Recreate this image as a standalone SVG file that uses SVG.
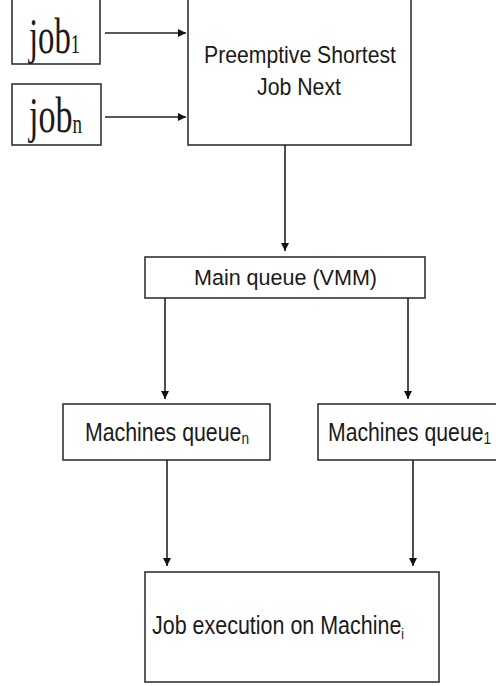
<svg xmlns="http://www.w3.org/2000/svg" width="496" height="686" viewBox="0 0 496 686">
<defs>
<style>
.box{fill:#fff;stroke:#333;stroke-width:1.6}
.ln{stroke:#222;stroke-width:1.6;fill:none;marker-end:url(#ah)}
.sans{font-family:"Liberation Sans",Arial,sans-serif;fill:#1a1a1a}
.serif{font-family:"Liberation Serif","Times New Roman",serif;fill:#1a1a1a}
</style>
<marker id="ah" viewBox="0 0 10 10" refX="10" refY="5" markerWidth="9" markerHeight="8" markerUnits="userSpaceOnUse" orient="auto">
<path d="M0,0 L10,5 L0,10 z" fill="#111"/>
</marker>
</defs>
<rect width="496" height="686" fill="#fff"/>
<g id="job1">
<rect class="box" x="12" y="-2" width="88" height="66"/>
<text class="serif" x="29" y="53" font-size="50" textLength="51" lengthAdjust="spacingAndGlyphs">job<tspan font-size="28">1</tspan></text>
</g>
<g id="jobn">
<rect class="box" x="12" y="84" width="89" height="61"/>
<text class="serif" x="29" y="132" font-size="50" textLength="53" lengthAdjust="spacingAndGlyphs">job<tspan font-size="28" dy="1">n</tspan></text>
</g>
<g id="psjn">
<rect class="box" x="188" y="-2" width="223" height="147"/>
<text class="sans" x="204" y="63" font-size="24" textLength="192" lengthAdjust="spacingAndGlyphs">Preemptive Shortest</text>
<text class="sans" x="257" y="95" font-size="24" textLength="84" lengthAdjust="spacingAndGlyphs">Job Next</text>
</g>
<g id="mainqueue">
<rect class="box" x="145" y="257" width="280" height="41"/>
<text class="sans" x="194" y="285" font-size="22" textLength="183" lengthAdjust="spacingAndGlyphs">Main queue (VMM)</text>
</g>
<g id="mqn">
<rect class="box" x="63" y="404" width="207" height="56"/>
<text class="sans" x="85" y="441" font-size="25" textLength="164" lengthAdjust="spacingAndGlyphs">Machines queue<tspan font-size="16" dy="3">n</tspan></text>
</g>
<g id="mq1">
<rect class="box" x="318" y="404" width="190" height="56"/>
<text class="sans" x="328" y="441" font-size="25" textLength="163" lengthAdjust="spacingAndGlyphs">Machines queue<tspan font-size="16" dy="3">1</tspan></text>
</g>
<g id="exec">
<rect class="box" x="145" y="572" width="294" height="110"/>
<text class="sans" x="152" y="634" font-size="25" textLength="252" lengthAdjust="spacingAndGlyphs">Job execution on Machine<tspan font-size="14" dy="5">i</tspan></text>
</g>
<g id="connectors">
<line class="ln" x1="105" y1="33" x2="186" y2="33"/>
<line class="ln" x1="105" y1="117" x2="186" y2="117"/>
<line class="ln" x1="285" y1="145" x2="285" y2="251"/>
<line class="ln" x1="165" y1="298" x2="165" y2="399"/>
<line class="ln" x1="408" y1="298" x2="408" y2="399"/>
<line class="ln" x1="167" y1="460" x2="167" y2="566"/>
<line class="ln" x1="413" y1="460" x2="413" y2="566"/>
</g>
</svg>
